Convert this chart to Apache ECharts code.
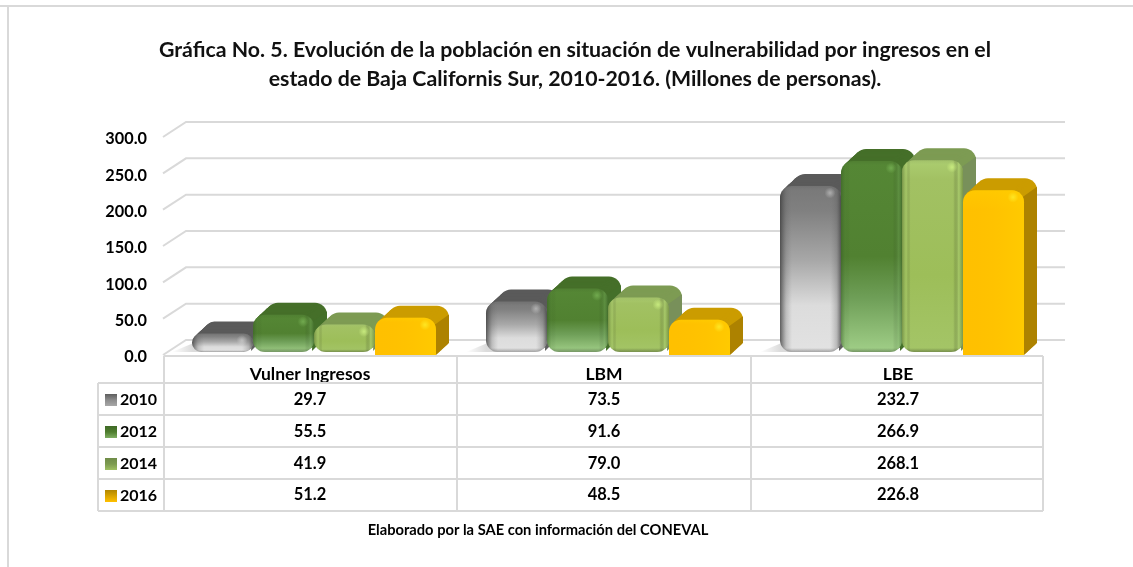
<!DOCTYPE html>
<html><head><meta charset="utf-8">
<script src="https://cdn.jsdelivr.net/npm/echarts@6/dist/echarts.min.js"></script>
<style>html,body{margin:0;padding:0;background:#fff}#c{width:1133px;height:567px}</style>
</head><body><div id="c"></div>
<script>
var categories = ['Vulner Ingresos', 'LBM', 'LBE'];
var years = ['2010', '2012', '2014', '2016'];
var v2010 = [29.7, 73.5, 232.7];
var v2012 = [55.5, 91.6, 266.9];
var v2014 = [41.9, 79.0, 268.1];
var v2016 = [51.2, 48.5, 226.8];
var ticks = [0, 50, 100, 150, 200, 250, 300];
var values = [v2010, v2012, v2014, v2016];

var FONT = 'Lato, Carlito, sans-serif';
var DX = 13, DY = 12, BACK_X = 23, BACK_Y = 15;
function vg(stops){return {type:'linear',x:0,y:0,x2:0,y2:1,colorStops:stops.map(function(s){return {offset:s[0],color:s[1]};})};}
function hg(stops){return {type:'linear',x:0,y:0,x2:1,y2:0,colorStops:stops.map(function(s){return {offset:s[0],color:s[1]};})};}
var looks = [
 {swatch:vg([[0,'#5e5e5e'],[0.5,'#8c8c8c'],[1,'#a8a8a8']]),top:'#5a5a5a',side:'#5f5f5f',flat:false,
  front:[[0,'#787878'],[0.15,'#808080'],[0.45,'#a8a8a8'],[0.72,'#dcdcdc'],[1,'#e2e2e2']],
  edge:[[0,'rgba(60,60,60,.8)'],[0.1,'rgba(90,90,90,.25)'],[0.2,'rgba(120,120,120,0)'],[0.82,'rgba(120,120,120,0)'],[0.93,'rgba(90,90,90,.3)'],[1,'rgba(60,60,60,.75)']],spot:'rgba(225,225,225,.5)'},
 {swatch:vg([[0,'#3f6a26'],[0.5,'#4e7d2e'],[1,'#7fae62']]),top:'#456f29',side:'#44702a',flat:false,
  front:[[0,'#558735'],[0.5,'#518131'],[0.72,'#6f9f58'],[1,'#a1cf88']],
  edge:[[0,'rgba(50,85,35,.5)'],[0.07,'rgba(60,100,40,.1)'],[0.15,'rgba(0,0,0,0)'],[0.85,'rgba(0,0,0,0)'],[0.94,'rgba(120,170,100,.25)'],[1,'rgba(50,85,35,.5)']],spot:'rgba(125,185,90,.7)'},
 {swatch:vg([[0,'#6f8c48'],[0.5,'#7c9a50'],[1,'#9fc062']]),top:'#7d9b53',side:'#78905a',flat:false,
  front:[[0,'#accd70'],[0.1,'#a2c163'],[0.6,'#9dbe59'],[1,'#a4c567']],
  edge:[[0,'rgba(85,110,50,.55)'],[0.07,'rgba(170,205,110,.35)'],[0.14,'rgba(0,0,0,0)'],[0.84,'rgba(0,0,0,0)'],[0.93,'rgba(175,210,115,.5)'],[1,'rgba(85,110,50,.5)']],spot:'rgba(205,240,130,.85)'},
 {swatch:vg([[0,'#b08600'],[0.5,'#d9a400'],[1,'#ffc000']]),top:'#cb9c00',side:'#ad8200',flat:true,
  front:[[0,'#ffc800'],[0.12,'#ffc000'],[1,'#ffc000']],
  edge:[[0,'rgba(255,192,0,0)'],[1,'rgba(255,210,0,.55)']],spot:'rgba(255,235,40,.85)'}
];

function barRender(si){
  return function(params, api){
    var c = api.value(0), val = api.value(1);
    var band = api.size([1,0])[0];
    var w = 61;
    var cx = api.coord([c,0])[0];
    var base = api.coord([c,0])[1];
    var top = api.coord([c,val])[1];
    var x = cx - band/2 + 29 + si*w;
    var look = looks[si];
    var bottom = look.flat ? base : base - 3;
    var h = bottom - top;
    var r = Math.min(12, h/2, w/2);
    var rad = look.flat ? [r,r,0,0] : [r,r,r,r];
    var kids = [];
    if (si === 0) {
      kids.push({type:'polygon',shape:{points:[[x-20,base-3],[x+4,base-13],[x+30,base-13],[x+30,base-3]]},silent:true,
        style:{fill:hg([[0,'rgba(205,205,205,0)'],[0.4,'rgba(205,205,205,.7)'],[1,'rgba(205,205,205,.9)']])}});
    }
    var n = 10;
    for (var k = n; k >= 1; k--) {
      kids.push({type:'rect',silent:true,shape:{x:x+DX*k/n,y:top-DY*k/n,width:w,height:h,r:rad},style:{fill:look.top}});
    }
    var sideTop = top + r*0.55;
    kids.push({type:'polygon',silent:true,shape:{points:[[x+w-1,sideTop],[x+w+DX,sideTop-DY+2],[x+w+DX,bottom-DY-(look.flat?0:4)],[x+w-(look.flat?0:2),bottom-(look.flat?0:1)]]},style:{fill:look.side}});
    kids.push({type:'rect',silent:true,shape:{x:x,y:top,width:w,height:h,r:rad},style:{fill:vg(look.front)}});
    kids.push({type:'rect',silent:true,shape:{x:x,y:top,width:w,height:h,r:rad},style:{fill:hg(look.edge)}});
    if (!look.flat) {
      kids.push({type:'rect',silent:true,shape:{x:x,y:top,width:w,height:h,r:rad},style:{fill:vg([[0,'rgba(0,0,0,.06)'],[Math.min(0.1,4/h),'rgba(0,0,0,0)'],[Math.max(0.9,1-4/h),'rgba(0,0,0,0)'],[1,'rgba(20,20,20,.3)']])}});
    }
    kids.push({type:'circle',silent:true,shape:{cx:x+w-11,cy:top+7,r:5.5},style:{fill:{type:'radial',x:0.5,y:0.5,r:0.5,colorStops:[{offset:0,color:look.spot},{offset:1,color:look.spot.replace(/[\d.]+\)$/,'0)')}]}}});
    return {type:'group',children:kids};
  };
}
function gridRender(params, api){
  var t = api.value(0);
  var xL = api.coord([0,0])[0] - api.size([1,0])[0]/2;
  var xR = api.coord([2,0])[0] + api.size([1,0])[0]/2;
  var y = api.coord([0,t])[1];
  return {type:'polyline',silent:true,shape:{points:[[xL,y],[xL+BACK_X,y-BACK_Y],[xR+BACK_X-3,y-BACK_Y]]},
    style:{stroke:'#d9d9d9',lineWidth:2,fill:null}};
}
var rowY = [399.5, 431.5, 463.5, 495];
function cellRender(params, api){
  var p = api.coord([api.value(0),0]);
  return {type:'text',silent:true,style:{x:p[0],y:rowY[api.value(1)],text:api.value(2).toFixed(1),textAlign:'center',textVerticalAlign:'middle',
    font:'bold 16.5px '+FONT,fill:'#000'}};
}
var cellData = [];
values.forEach(function(arr,row){arr.forEach(function(v,c){cellData.push([c,row,v]);});});

var series = [{type:'custom',name:'rejilla',silent:true,z:1,renderItem:gridRender,data:ticks.map(function(t){return [t];}),encode:{x:[],y:0},tooltip:{show:false}}];
years.forEach(function(y,i){
  series.push({type:'custom',name:y,z:3,renderItem:barRender(i),itemStyle:{color:looks[i].swatch},
    data:values[i].map(function(v,c){return [c,v];}),encode:{x:0,y:1}});
});
series.push({type:'custom',name:'tabla',silent:true,z:5,renderItem:cellRender,data:cellData,encode:{x:0,y:[]}});

var G = '#d9d9d9';
function line(x1,y1,x2,y2){return {type:'line',silent:true,z:2,shape:{x1:x1,y1:y1,x2:x2,y2:y2},style:{stroke:G,lineWidth:2}};}
var graphicEls = [
  line(0,6,1133,6), line(8,6,8,567),
  line(164,356,1043,356), line(164,356,164,511),
  line(457,356,457,511), line(751,356,751,511), line(1043,356,1043,511),
  line(98,383,1043,383), line(98,415,1043,415), line(98,447,1043,447), line(98,479,1043,479), line(98,511,1043,511),
  line(98,383,98,511)
];

var chart = echarts.init(document.getElementById('c'));
chart.setOption({
  animation:false,
  backgroundColor:'#fff',
  title:[
    {text:'Gráfica No. 5. Evolución de la población en situación de vulnerabilidad por ingresos en el\nestado de Baja Californis Sur, 2010-2016. (Millones de personas).',
     left:570,top:31,textAlign:'center',textStyle:{fontFamily:FONT,fontWeight:'bold',fontSize:21.3,lineHeight:29,color:'#111'}},
    {text:'Elaborado por la SAE con información del CONEVAL',left:533,top:518,textAlign:'center',
     textStyle:{fontFamily:FONT,fontWeight:'bold',fontSize:14.7,color:'#000'}}
  ],
  legend:{orient:'vertical',left:100,top:385,itemWidth:12,itemHeight:12,itemGap:12,
    data:years,icon:'rect',selectedMode:false,
    textStyle:{fontFamily:FONT,fontWeight:'bold',fontSize:16,color:'#000',lineHeight:20,padding:[0,0,0,-2]}},
  grid:{left:163,right:88,top:137,bottom:212},
  xAxis:{type:'category',data:categories,axisLine:{show:false},axisTick:{show:false},
    axisLabel:{interval:0,margin:10,fontFamily:FONT,fontWeight:'bold',fontSize:17.5,color:'#000'}},
  yAxis:{type:'value',min:0,max:300,interval:50,splitLine:{show:false},axisLine:{show:false},axisTick:{show:false},
    axisLabel:{margin:16,formatter:function(v){return '{a|'+v.toFixed(1)+'}';},
      rich:{a:{fontFamily:FONT,fontWeight:'bold',fontSize:16.3,color:'#000',padding:[4,0,0,0]}}}},
  graphic:graphicEls,
  series:series
});
</script></body></html>
